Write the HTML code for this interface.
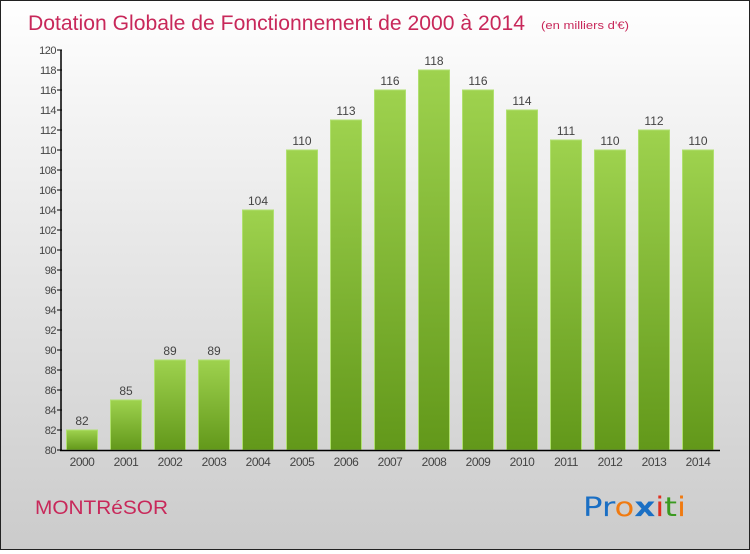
<!DOCTYPE html>
<html><head><meta charset="utf-8"><style>
html,body{margin:0;padding:0}
body{width:750px;height:550px;overflow:hidden;font-family:"Liberation Sans",sans-serif}
#wrap{position:absolute;left:0;top:0;width:748px;height:548px;border:1px solid #222;background:linear-gradient(#fff,#f4f4f4 20%,#cbcbcb)}
</style></head><body>
<div id="wrap">
<svg width="748" height="548" viewBox="1 1 748 548" id="svg">
<defs><linearGradient id="g" x1="0" y1="0" x2="0" y2="1"><stop offset="0" stop-color="#9ed24e"/><stop offset="1" stop-color="#62981a"/></linearGradient></defs>
<text x="28" y="30" font-size="21" fill="#c8285a" textLength="497" lengthAdjust="spacingAndGlyphs">Dotation Globale de Fonctionnement de 2000 à 2014</text>
<text x="541" y="29" font-size="11" fill="#c8285a" textLength="88" lengthAdjust="spacingAndGlyphs">(en milliers d'€)</text>
<text x="35" y="514" font-size="19" fill="#c8285a" textLength="133" lengthAdjust="spacingAndGlyphs">MONTRéSOR</text>
<g font-size="27" font-family="'DejaVu Sans',sans-serif">
<text x="583" y="516" textLength="103" lengthAdjust="spacingAndGlyphs"><tspan fill="#1a6fc4">Pr</tspan><tspan fill="#f07a10">o</tspan><tspan fill="#1a6fc4" font-weight="bold">x</tspan><tspan fill="#e03020">i</tspan><tspan fill="#3a9a20">t</tspan><tspan fill="#f07a10">i</tspan></text></g>
<g id="plot"></g>
</svg></div>
<script>
const years=["2000","2001","2002","2003","2004","2005","2006","2007","2008","2009","2010","2011","2012","2013","2014"];
const values=[82,85,89,89,104,110,113,116,118,116,114,111,110,112,110];
const yTicks=[80,82,84,86,88,90,92,94,96,98,100,102,104,106,108,110,112,114,116,118,120];
const NS="http://www.w3.org/2000/svg";
const g=document.getElementById('plot');
const y=v=>450-(v-80)*10;
const x=i=>82+i*44;
function mk(t,a,p){const e=document.createElementNS(NS,t);for(const k in a)e.setAttribute(k,a[k]);(p||g).appendChild(e);return e;}
yTicks.forEach(v=>{
 const l=mk('line',{x1:57,x2:62,y1:y(v),y2:y(v),stroke:'#000'});
 
 
 const t=mk('text',{x:56,y:y(v)+4,'font-size':11,fill:'#444','text-anchor':'end','letter-spacing':'-0.5'});
 t.textContent=v;
 
 
});
values.forEach((v,i)=>{
 const r=mk('rect',{x:x(i)-15.5,y:y(v),width:31,height:450-y(v),fill:'url(#g)',stroke:'#b0e070','stroke-width':1});
 
 
 const t=mk('text',{x:x(i),y:y(v)-5,'font-size':12,fill:'#444','text-anchor':'middle'});
 t.textContent=v;
 
 
 const c=mk('text',{x:x(i),y:466,'font-size':12,fill:'#444','text-anchor':'middle','letter-spacing':'-0.5'});
 c.textContent=years[i];
 
 
});
const ya=mk('line',{x1:61,x2:61,y1:y(120),y2:451,stroke:'#000','stroke-width':1.5});


const xa=mk('line',{x1:60,x2:720,y1:450.5,y2:450.5,stroke:'#000','stroke-width':1.5});


</script>
</body></html>
